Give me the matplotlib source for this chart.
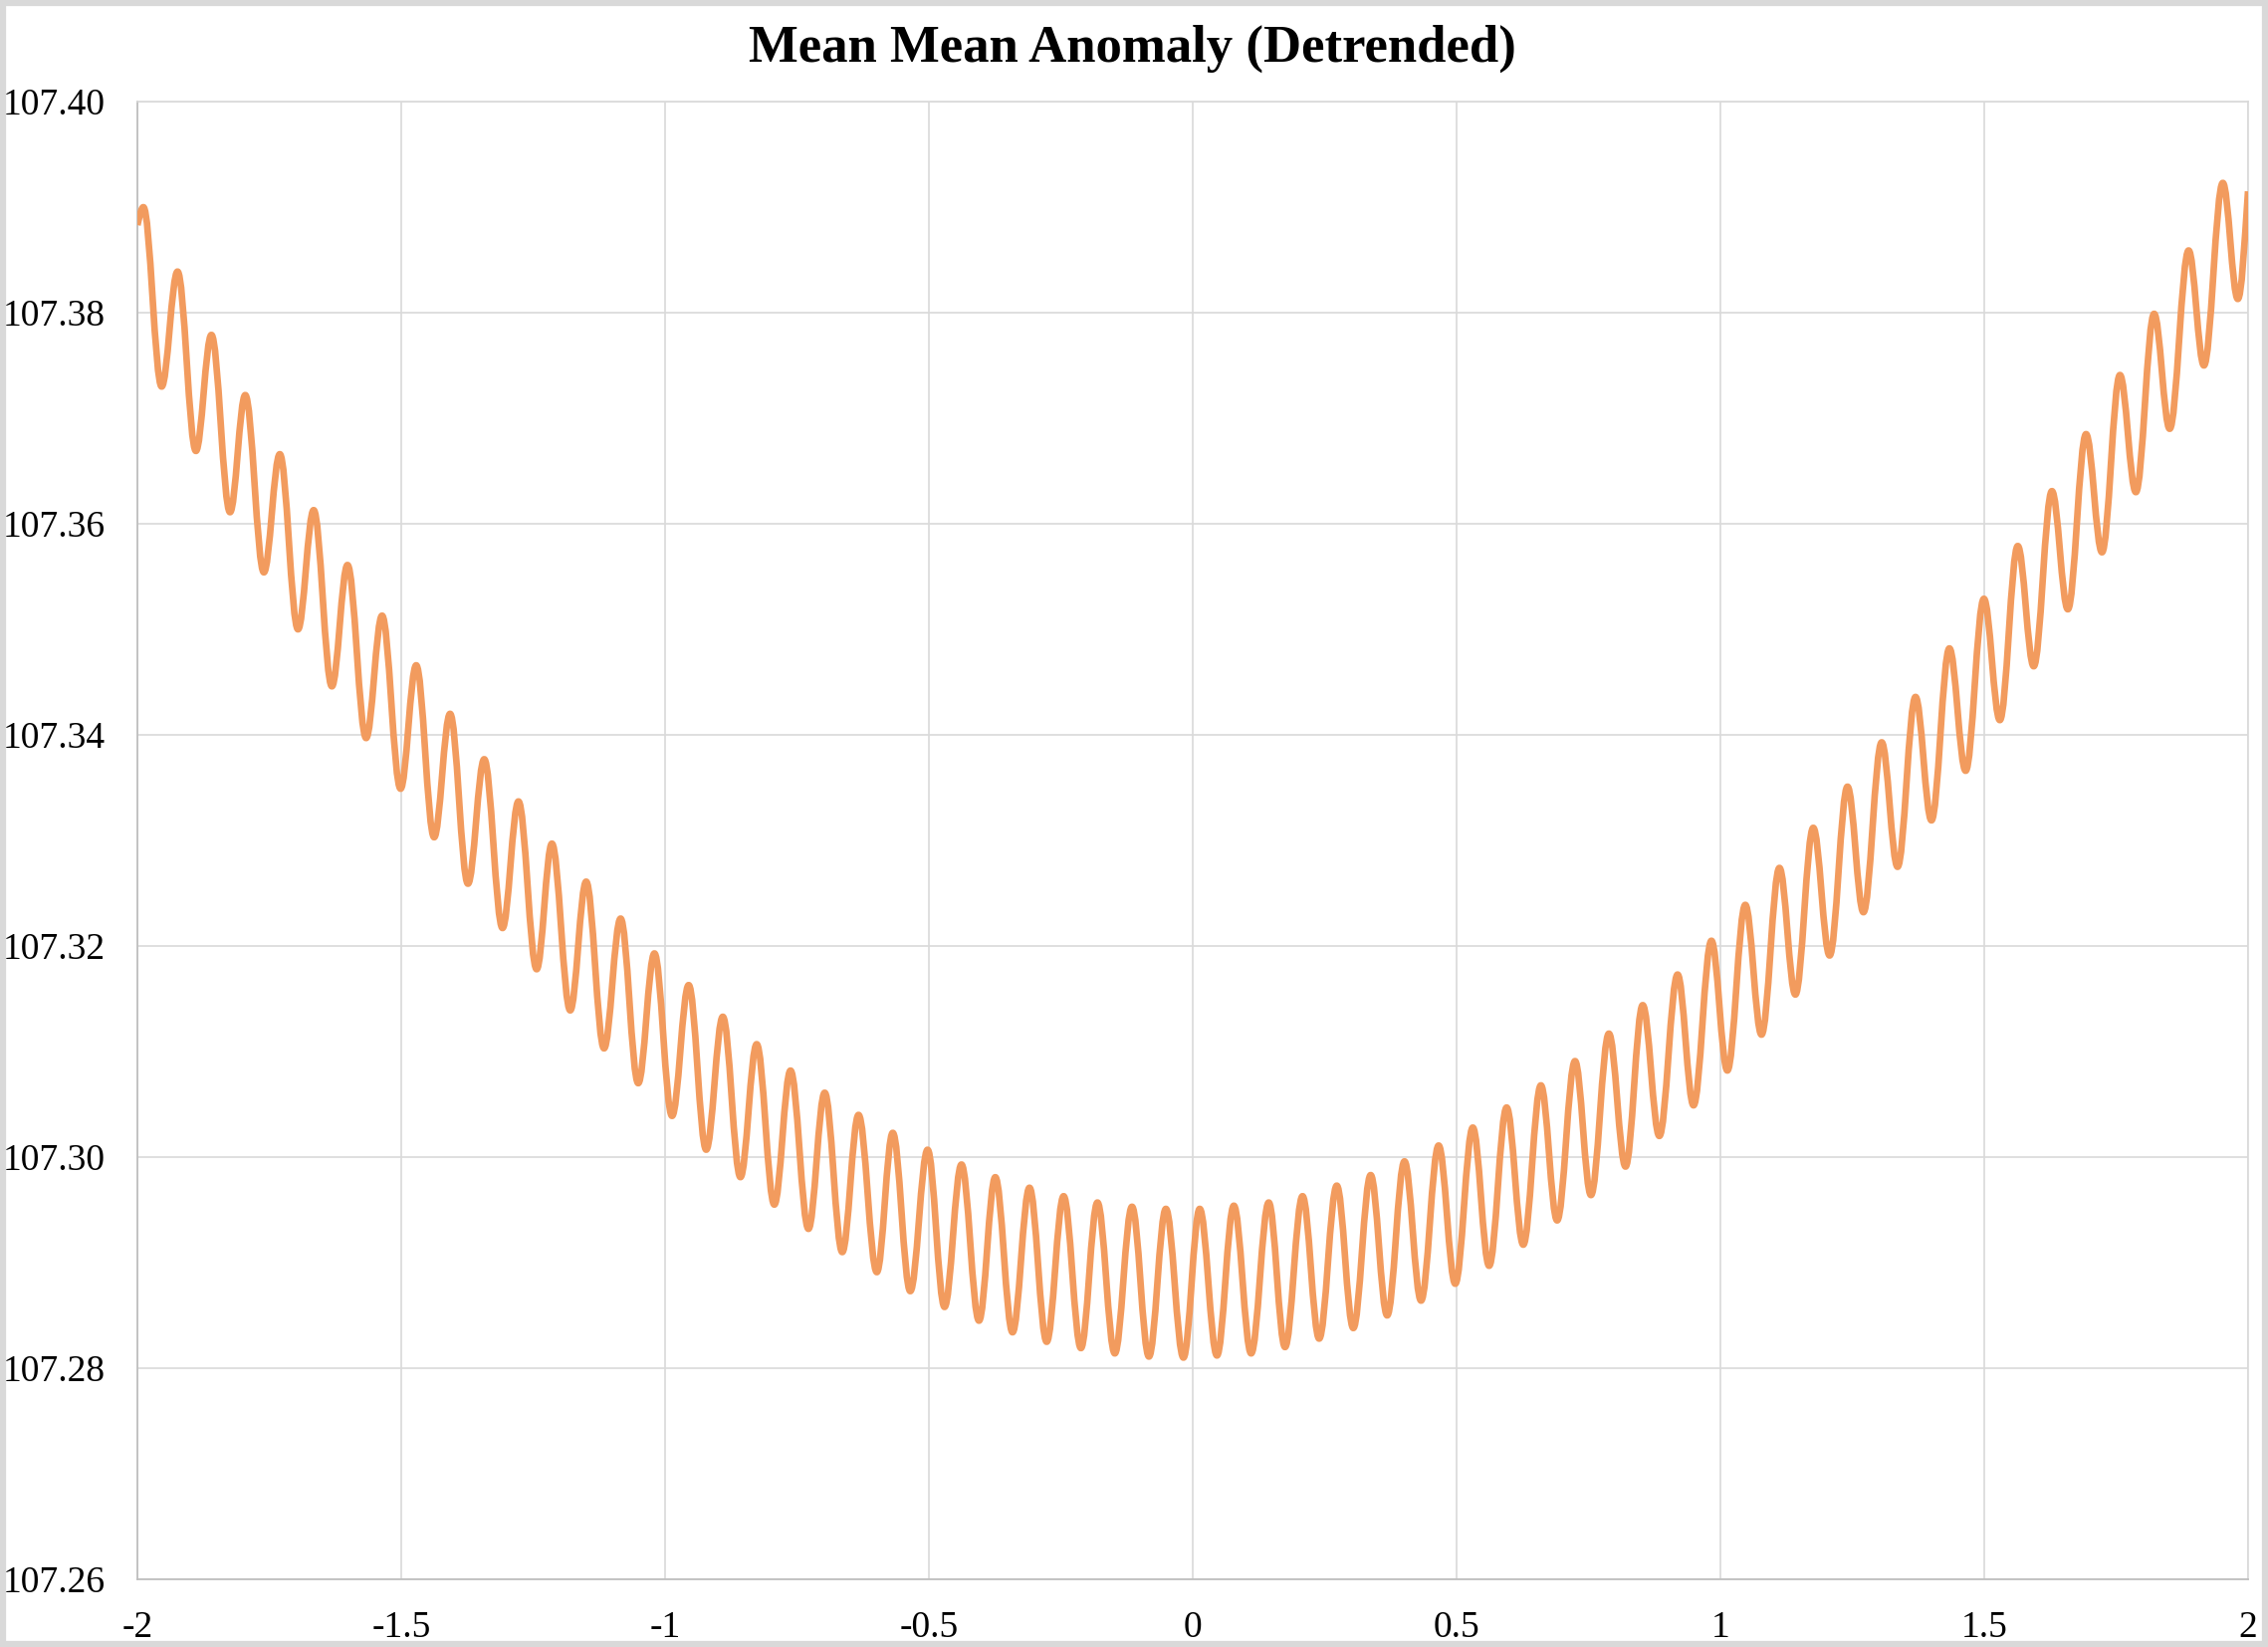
import matplotlib
matplotlib.use("Agg")
import matplotlib.pyplot as plt
import numpy as np
from matplotlib.path import Path
from matplotlib.patches import PathPatch, Rectangle

# extremes of the curve (x in units of the axis, y in degrees)
peak_x = [-1.9887, -1.9240, -1.8598, -1.7957, -1.7302, -1.6660, -1.6019, -1.5364, -1.4717, -1.4075, -1.3428,
          -1.2779, -1.2145, -1.1496, -1.0843, -1.0202, -0.9553, -0.8906, -0.8264, -0.7623, -0.6975, -0.6334,
          -0.5685, -0.5025, -0.4383, -0.3742, -0.3094, -0.2447, -0.1806, -0.1151, -0.0509, 0.0132, 0.0779,
          0.1440, 0.2081, 0.2730, 0.3372, 0.4013, 0.4660, 0.5308, 0.5949, 0.6598, 0.7245,
          0.7887, 0.8528, 0.9189, 0.9830, 1.0472, 1.1119, 1.1760, 1.2409, 1.3057, 1.3698, 1.4340,
          1.4994, 1.5636, 1.6283, 1.6930, 1.7572, 1.8220, 1.8874, 1.9522]
peak_y = [107.3900, 107.3839, 107.3779, 107.3722, 107.3666, 107.3613, 107.3561, 107.3513, 107.3466, 107.3420, 107.3377,
          107.3337, 107.3297, 107.3261, 107.3226, 107.3193, 107.3163, 107.3133, 107.3107, 107.3082, 107.3061, 107.3040,
          107.3023, 107.3007, 107.2993, 107.2981, 107.2971, 107.2963, 107.2957, 107.2953, 107.2951, 107.2951, 107.2954,
          107.2957, 107.2963, 107.2973, 107.2983, 107.2996, 107.3011, 107.3028, 107.3047, 107.3068, 107.3091,
          107.3117, 107.3144, 107.3173, 107.3205, 107.3239, 107.3274, 107.3312, 107.3351, 107.3393, 107.3436, 107.3482,
          107.3529, 107.3579, 107.3631, 107.3685, 107.3741, 107.3799, 107.3859, 107.3923]
trough_x = [-1.9541, -1.8892, -1.8245, -1.7604, -1.6957, -1.6315, -1.5666, -1.5013, -1.4377, -1.3736, -1.3081,
            -1.2434, -1.1798, -1.1157, -1.0509, -0.9868, -0.9221, -0.8572, -0.7930, -0.7283, -0.6642,
            -0.5987, -0.5353, -0.4704, -0.4051, -0.3415, -0.2768, -0.2119, -0.1477, -0.0830, -0.0176, 0.0459,
            0.1107, 0.1749, 0.2396, 0.3043, 0.3685, 0.4327, 0.4975, 0.5617, 0.6264, 0.6906, 0.7547,
            0.8202, 0.8843, 0.9491, 1.0132, 1.0779, 1.1421, 1.2070, 1.2711, 1.3358, 1.4000,
            1.4648, 1.5296, 1.5938, 1.6585, 1.7232, 1.7874, 1.8515, 1.9164, 1.9806]
trough_y = [107.3730, 107.3669, 107.3611, 107.3554, 107.3500, 107.3446, 107.3397, 107.3349, 107.3303, 107.3259, 107.3217,
            107.3178, 107.3139, 107.3103, 107.3070, 107.3039, 107.3007, 107.2981, 107.2955, 107.2932, 107.2910,
            107.2891, 107.2873, 107.2858, 107.2845, 107.2834, 107.2825, 107.2819, 107.2814, 107.2811, 107.2810, 107.2812,
            107.2814, 107.2820, 107.2828, 107.2838, 107.2850, 107.2864, 107.2880, 107.2897, 107.2917, 107.2940, 107.2964,
            107.2991, 107.3020, 107.3049, 107.3082, 107.3116, 107.3154, 107.3191, 107.3232, 107.3275, 107.3319,
            107.3366, 107.3414, 107.3465, 107.3519, 107.3573, 107.3630, 107.3690, 107.3750, 107.3813]
start_pt = (-2.0, 107.3883)
end_pt = (2.0, 107.3915)

x_ticks = [-2, -1.5, -1, -0.5, 0, 0.5, 1, 1.5, 2]
x_labels = ["-2", "-1.5", "-1", "-0.5", "0", "0.5", "1", "1.5", "2"]
y_ticks = [107.26, 107.28, 107.30, 107.32, 107.34, 107.36, 107.38, 107.40]
y_labels = ["107.26", "107.28", "107.30", "107.32", "107.34", "107.36", "107.38", "107.40"]

title = "Mean Mean Anomaly (Detrended)"
line_color = "#F29B5E"
grid_color = "#D9D9D9"

plt.rcParams["font.family"] = ["Liberation Serif", "DejaVu Serif"]
plt.rcParams["axes.unicode_minus"] = False

# join the extremes with smooth bezier pieces (flat tangent at every peak/trough)
xs = np.concatenate([[start_pt[0]], peak_x, trough_x, [end_pt[0]]])
ys = np.concatenate([[start_pt[1]], peak_y, trough_y, [end_pt[1]]])
is_ext = np.concatenate([[False], np.ones(len(peak_x) + len(trough_x), bool), [False]])
order = np.argsort(xs)
xs, ys, is_ext = xs[order], ys[order], is_ext[order]

k = 0.364
verts = [(xs[0], ys[0])]
codes = [Path.MOVETO]
for i in range(len(xs) - 1):
    x0, y0, x1, y1 = xs[i], ys[i], xs[i + 1], ys[i + 1]
    dx, dy = x1 - x0, y1 - y0
    c1y = y0 if is_ext[i] else y0 + dy * 0.5
    c2y = y1 if is_ext[i + 1] else y1 - dy * 0.5
    verts += [(x0 + k * dx, c1y), (x1 - k * dx, c2y), (x1, y1)]
    codes += [Path.CURVE4] * 3

fig = plt.figure(figsize=(22.78, 16.54), dpi=100)
ax = fig.add_axes([0.0606, 0.0411, 0.9306, 0.8972])

ax.add_patch(PathPatch(Path(verts, codes), fill=False, edgecolor=line_color,
                       linewidth=4.8, capstyle="butt", joinstyle="round", zorder=3))

ax.set_xlim(-2, 2)
ax.set_ylim(107.26, 107.40)
ax.set_xticks(x_ticks)
ax.set_xticklabels(x_labels)
ax.set_yticks(y_ticks)
ax.set_yticklabels(y_labels)
ax.tick_params(length=0, labelsize=27, colors="black")
ax.tick_params(axis="x", pad=23)
ax.tick_params(axis="y", pad=23)
ax.grid(True, color=grid_color, linewidth=1.2)
ax.set_axisbelow(True)
for side in ["top", "right"]:
    ax.spines[side].set_color(grid_color)
    ax.spines[side].set_linewidth(1.2)
for side in ["left", "bottom"]:
    ax.spines[side].set_color("#BFBFBF")
    ax.spines[side].set_linewidth(1.3)

fig.text(0.4995, 0.9627, title, ha="center", va="baseline",
         fontsize=38, fontweight="bold")

# light grey frame round the whole picture
fig.add_artist(Rectangle((0.0012, 0.0017), 0.9976, 0.9966, transform=fig.transFigure,
                         fill=False, edgecolor="#D9D9D9", linewidth=4.5))

fig.savefig("out.png", dpi=100)
